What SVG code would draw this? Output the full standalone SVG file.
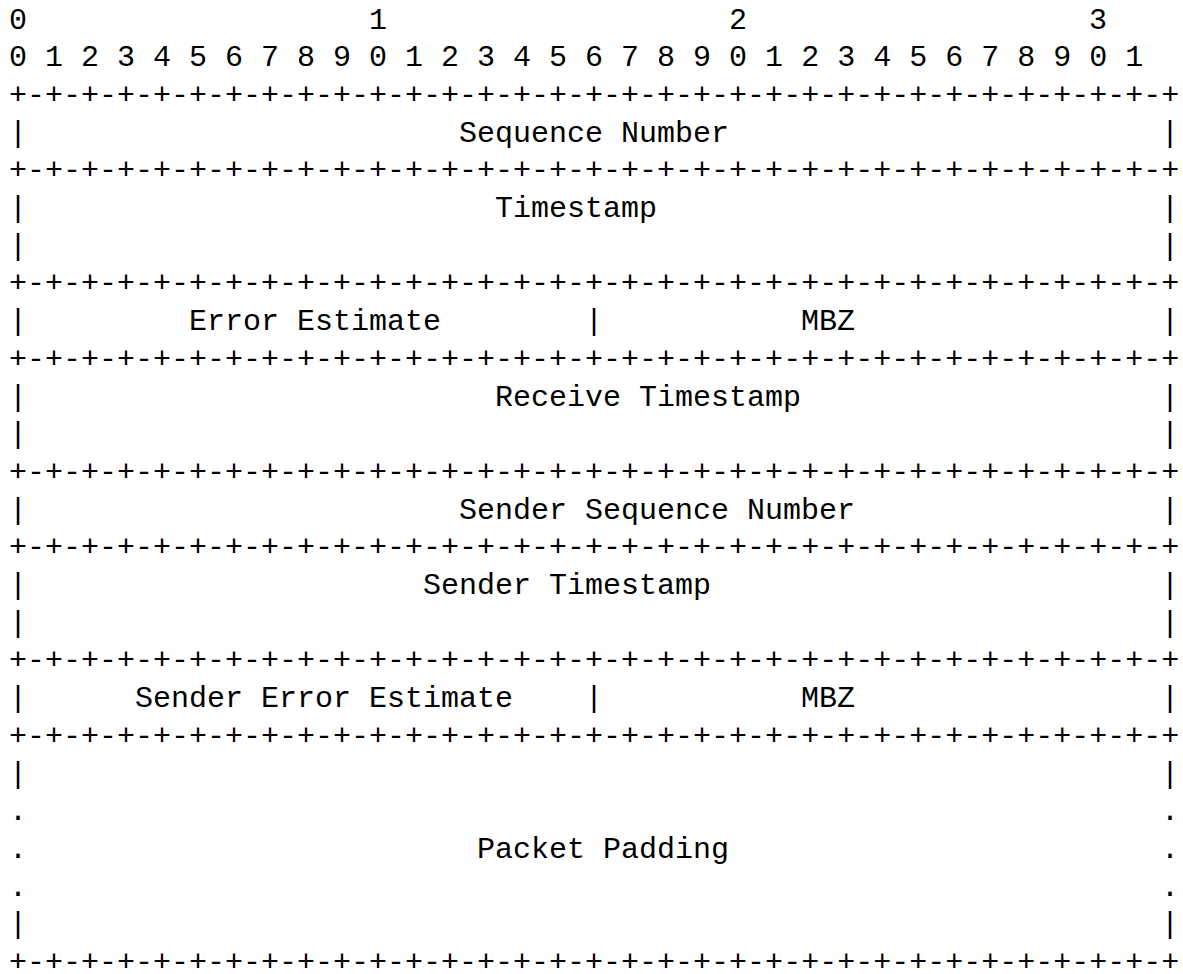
<svg xmlns="http://www.w3.org/2000/svg" width="1183" height="974" viewBox="0 0 1183 974">
<style>
text{font-family:"Liberation Mono","DejaVu Sans Mono",monospace;font-size:30px;fill:#000;white-space:pre}
</style>
<rect width="1183" height="974" fill="#fff"/>
<defs>
<text id="bd" x="9" y="0">+-+-+-+-+-+-+-+-+-+-+-+-+-+-+-+-+-+-+-+-+-+-+-+-+-+-+-+-+-+-+-+-+</text>
</defs>
<g id="header">
<text x="9" y="28.5">0</text><text x="369" y="28.5">1</text><text x="729" y="28.5">2</text><text x="1089" y="28.5">3</text>
<text x="9" y="66.2">0 1 2 3 4 5 6 7 8 9 0 1 2 3 4 5 6 7 8 9 0 1 2 3 4 5 6 7 8 9 0 1</text>
</g>
<g id="connectors">
<use href="#bd" y="103.9"/>
<use href="#bd" y="179.3"/>
<use href="#bd" y="292.4"/>
<use href="#bd" y="367.8"/>
<use href="#bd" y="480.9"/>
<use href="#bd" y="556.3"/>
<use href="#bd" y="669.4"/>
<use href="#bd" y="744.8"/>
<use href="#bd" y="971"/>
</g>
<g id="seq-number">
<text x="9" y="141.6">|</text><text x="459" y="141.6">Sequence Number</text><text x="1161" y="141.6">|</text>
</g>
<g id="timestamp">
<text x="9" y="217">|</text><text x="495" y="217">Timestamp</text><text x="1161" y="217">|</text>
<text x="9" y="254.7">|</text><text x="1161" y="254.7">|</text>
</g>
<g id="error-estimate">
<text x="9" y="330.1">|</text><text x="189" y="330.1">Error Estimate</text><text x="585" y="330.1">|</text><text x="801" y="330.1">MBZ</text><text x="1161" y="330.1">|</text>
</g>
<g id="receive-timestamp">
<text x="9" y="405.5">|</text><text x="495" y="405.5">Receive Timestamp</text><text x="1161" y="405.5">|</text>
<text x="9" y="443.2">|</text><text x="1161" y="443.2">|</text>
</g>
<g id="sender-seq-number">
<text x="9" y="518.6">|</text><text x="459" y="518.6">Sender Sequence Number</text><text x="1161" y="518.6">|</text>
</g>
<g id="sender-timestamp">
<text x="9" y="594">|</text><text x="423" y="594">Sender Timestamp</text><text x="1161" y="594">|</text>
<text x="9" y="631.7">|</text><text x="1161" y="631.7">|</text>
</g>
<g id="sender-error-estimate">
<text x="9" y="707.1">|</text><text x="135" y="707.1">Sender Error Estimate</text><text x="585" y="707.1">|</text><text x="801" y="707.1">MBZ</text><text x="1161" y="707.1">|</text>
</g>
<g id="packet-padding">
<text x="9" y="782.5">|</text><text x="1161" y="782.5">|</text>
<text x="9" y="820.2">.</text><text x="1161" y="820.2">.</text>
<text x="9" y="857.9">.</text><text x="477" y="857.9">Packet Padding</text><text x="1161" y="857.9">.</text>
<text x="9" y="895.6">.</text><text x="1161" y="895.6">.</text>
<text x="9" y="933.3">|</text><text x="1161" y="933.3">|</text>
</g>
</svg>
